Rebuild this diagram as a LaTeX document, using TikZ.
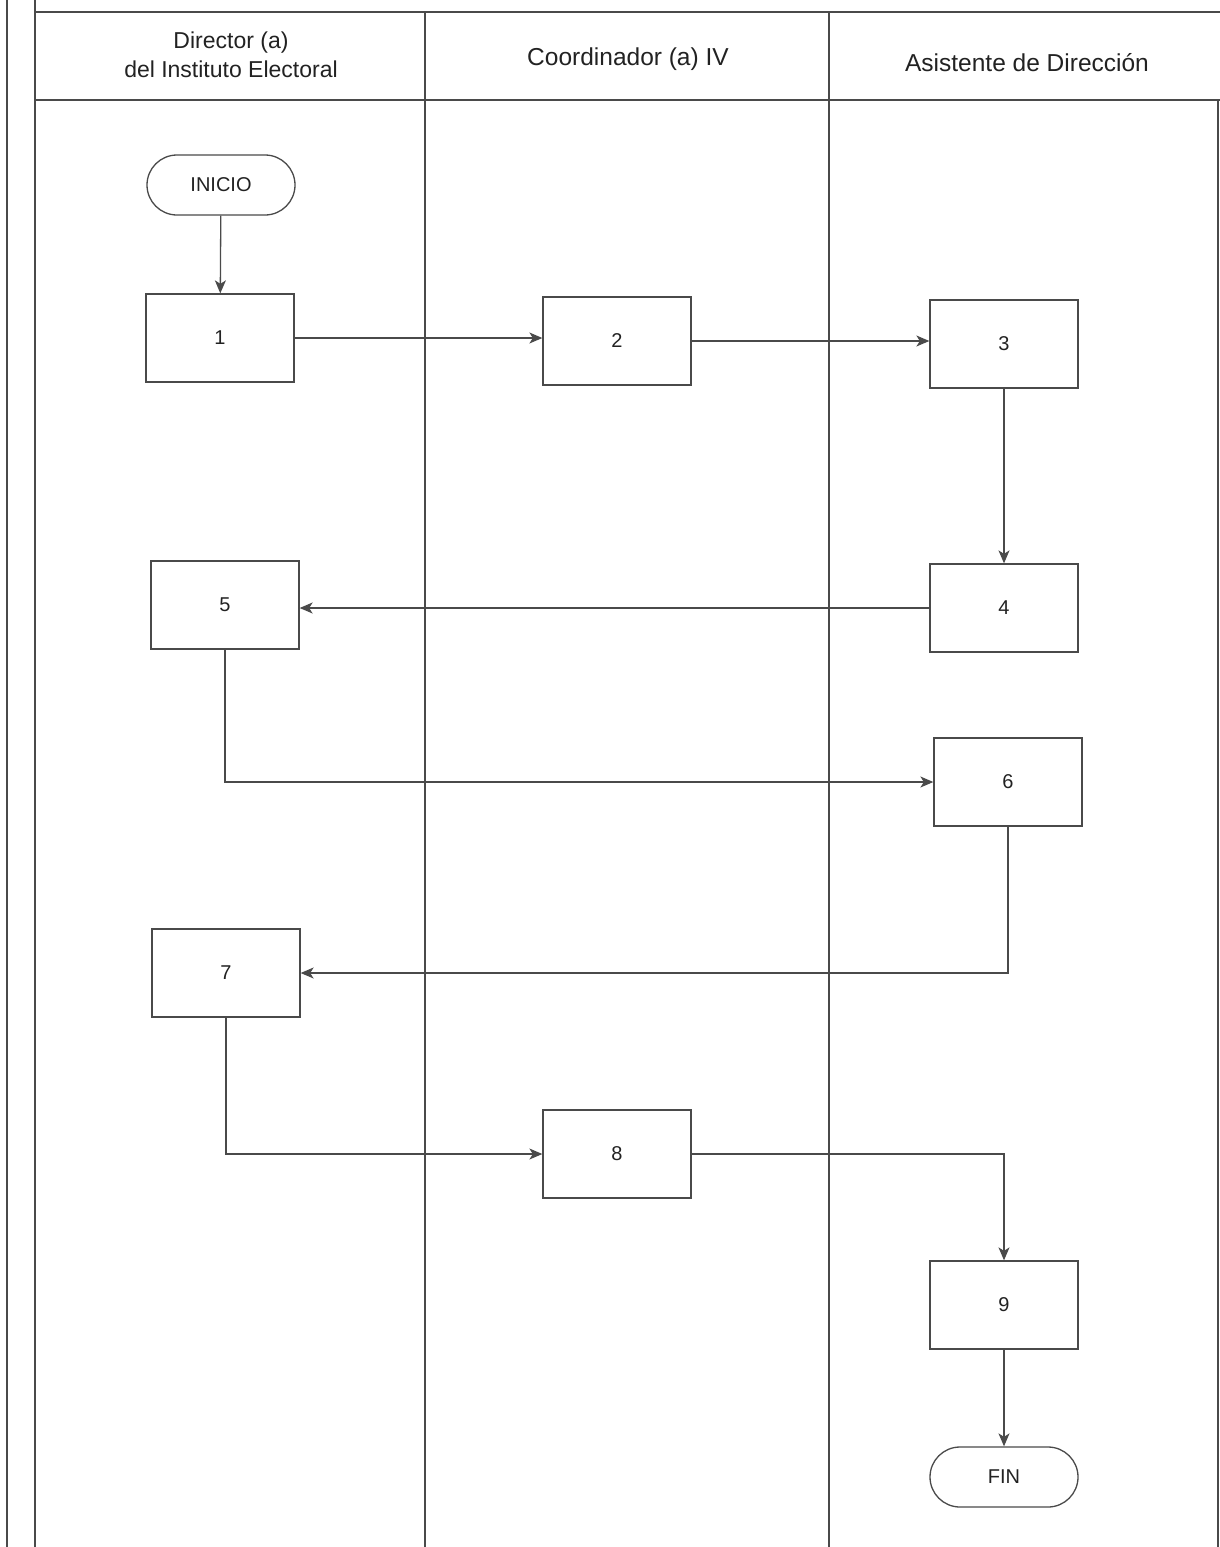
\documentclass[tikz,border=0pt]{standalone}
\usepackage{fontspec}
\setmainfont{Liberation Sans}
\usetikzlibrary{arrows.meta,shapes.misc}
\definecolor{linecol}{HTML}{4A4A4A}
\definecolor{txt}{HTML}{222222}
\begin{document}
\begin{tikzpicture}[x=1pt,y=-1pt,
  lane/.style={draw=linecol, line width=1.6pt},
  stepbox/.style={draw=linecol, line width=1.3pt, minimum width=148pt, minimum height=88pt, inner sep=0pt, text=txt, font=\fontsize{20}{24}\selectfont},
  term/.style={draw=linecol, line width=1.3pt, rounded rectangle, minimum width=148pt, minimum height=60pt, inner sep=0pt, text=txt, font=\fontsize{20}{24}\selectfont},
  head/.style={text=txt, font=\fontsize{24.5}{29}\selectfont, align=center},
  conn/.style={draw=linecol, line width=1.3pt, -{Stealth[length=13pt,width=11pt,inset=3.5pt]}}]
\useasboundingbox (0,0) rectangle (1220,1547);
% frame and lanes
\draw[lane] (7,0) -- (7,1547);
\draw[lane] (35,0) -- (35,1547);
\draw[lane] (35,12) -- (1220,12);
\draw[lane] (35,100) -- (1220,100);
\draw[lane] (425,12) -- (425,1547);
\draw[lane] (829,12) -- (829,1547);
\draw[lane] (1218,100) -- (1218,1547);
% headers
\node[head, font=\fontsize{23}{29}\selectfont] (h1) at (231,55) {Director (a)\\del Instituto Electoral};
\node[head] (h2) at (628,59) {Coordinador (a) IV};
\node[head] (h3) at (1027,63) {Asistente de Dirección};
% nodes
\node[term] (ini) at (221,185) {INICIO};
\node[stepbox] (n1) at (220,338) {1};
\node[stepbox] (n2) at (617,341) {2};
\node[stepbox] (n3) at (1004,344) {3};
\node[stepbox] (n4) at (1004,608) {4};
\node[stepbox] (n5) at (225,605) {5};
\node[stepbox] (n6) at (1008,782) {6};
\node[stepbox] (n7) at (226,973) {7};
\node[stepbox] (n8) at (617,1154) {8};
\node[stepbox] (n9) at (1004,1305) {9};
\node[term] (fin) at (1004,1477) {FIN};
% connectors
\draw[conn] (ini) -- (n1);
\draw[conn] (n1.east) -- (n1.east -| n2.west);
\draw[conn] (n2.east) -- (n2.east -| n3.west);
\draw[conn] (n3) -- (n4);
\draw[conn] (n4.west) -- (n4.west -| n5.east);
\draw[conn] (n5.south) |- (n6.west);
\draw[conn] (n6.south) |- (n7.east);
\draw[conn] (n7.south) |- (n8.west);
\draw[conn] (n8.east) -| (n9.north);
\draw[conn] (n9) -- (fin);
\end{tikzpicture}
\end{document}
